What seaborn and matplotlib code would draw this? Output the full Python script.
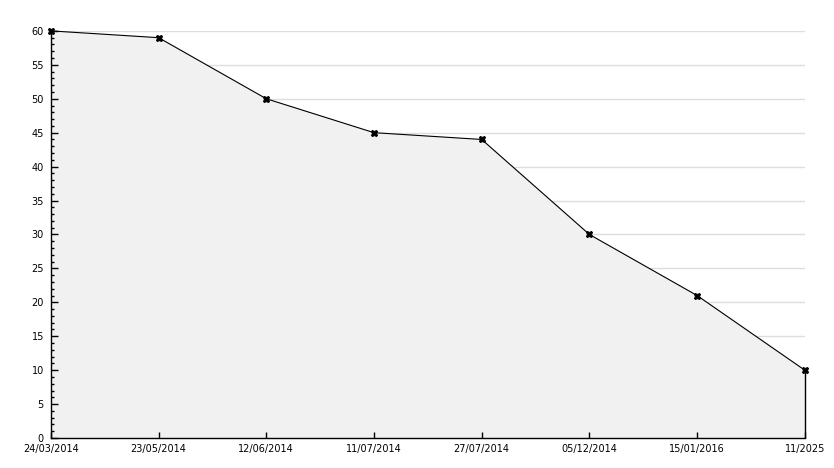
import matplotlib
matplotlib.use('Agg')
import matplotlib.pyplot as plt
import seaborn as sns
import pandas as pd
from matplotlib.ticker import MultipleLocator

# Chart data
dates = ['24/03/2014', '23/05/2014', '12/06/2014', '11/07/2014',
         '27/07/2014', '05/12/2014', '15/01/2016', '11/2025']
values = [60, 59, 50, 45, 44, 30, 21, 10]

df = pd.DataFrame({'pos': range(len(dates)), 'value': values})

sns.set_style('ticks')
plt.rcParams['font.family'] = ['DejaVu Sans']

fig = plt.figure(figsize=(8.34, 4.68), dpi=100)
ax = fig.add_axes([0.061, 0.064, 0.904, 0.870])
ax.set_axisbelow(False)

# horizontal grid drawn by hand so that it sits under the fill
for yv in range(5, 61, 5):
    ax.axhline(yv, color='#dddddd', lw=1, zorder=0.5)

# light area under the line, closed at right edge
ax.fill_between(df['pos'], df['value'], 0, color='#f1f1f1', zorder=1)
ax.vlines(df['pos'].iloc[-1], 0, df['value'].iloc[-1], color='black', lw=1,
          zorder=3, clip_on=False)
sns.lineplot(data=df, x='pos', y='value', ax=ax, color='black', lw=0.8,
             marker='X', markersize=5, markeredgecolor='black', zorder=4,
             clip_on=False)

ax.set_xlim(0, len(dates) - 1)
ax.set_ylim(0, 60)
ax.yaxis.set_major_locator(MultipleLocator(5))
ax.yaxis.set_minor_locator(MultipleLocator(1))
ax.set_xticks(df['pos'])
ax.set_xticklabels(dates)
ax.grid(False)

for s in ['top', 'right']:
    ax.spines[s].set_visible(False)
for s in ['left', 'bottom']:
    ax.spines[s].set_color('black')
    ax.spines[s].set_linewidth(1)

ax.tick_params(axis='y', which='major', direction='in', length=5, width=1,
               labelsize=7, pad=5, left=True, color='black', labelcolor='black')
ax.tick_params(axis='y', which='minor', direction='in', length=2.5, width=1,
               left=True, color='black')
ax.tick_params(axis='x', which='major', direction='in', length=4, width=1,
               labelsize=7, pad=4.5, bottom=True, color='black', labelcolor='black')
ax.tick_params(axis='x', which='minor', bottom=False)
ax.set_xlabel('')
ax.set_ylabel('')

fig.savefig('out.png', dpi=100)
